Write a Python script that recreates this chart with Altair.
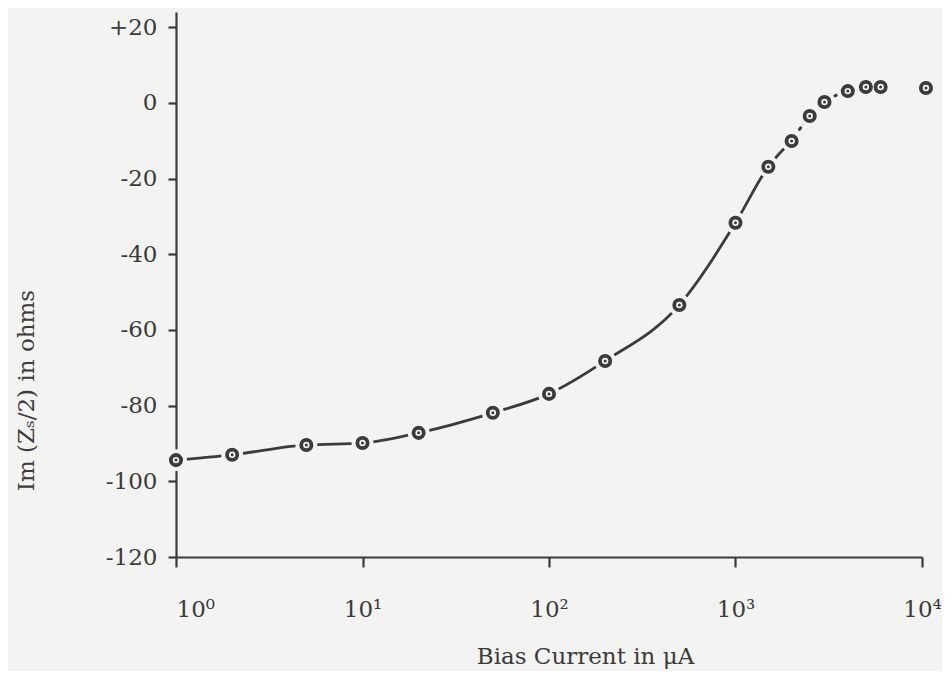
import altair as alt
import pandas as pd

# Bias current (microampere) and Im(Zs/2) in ohms
current = [1, 2, 5, 10, 20, 50, 100, 200, 500, 1000, 1500, 2000, 2500, 3000, 4000, 5000, 6000, 10500]
im_z = [-94.4, -93.0, -90.4, -89.9, -87.2, -81.9, -76.9, -68.2, -53.4, -31.7,
        -16.9, -10.1, -3.5, 0.2, 3.1, 4.2, 4.2, 3.9]

x_ticks = [1, 10, 100, 1000, 10000]
y_ticks = [-120, -100, -80, -60, -40, -20, 0, 20]

BG = "#f3f3f1"
INK = "#3b3b3b"
FONT = "DejaVu Serif"

df = pd.DataFrame({"current": current, "imz": im_z})
solid_part = df.iloc[0:12]
dotted_part = df.iloc[11:17]

x_scale = alt.Scale(type="log", domain=[1, 10000])
y_scale = alt.Scale(domain=[-120, 24], nice=False, zero=False)

sup_expr = ("'10' + (datum.value == 1 ? '⁰' : datum.value == 10 ? '¹' : "
            "datum.value == 100 ? '²' : datum.value == 1000 ? '³' : '⁴')")

x_axis = alt.Axis(
    values=x_ticks,
    labelExpr=sup_expr,
    labelFlush=False,
    labelAlign={"condition": {"test": "datum.value <= 1", "value": "left"}, "value": "center"},
    grid=False,
    domainColor=INK, domainWidth=2.2,
    tickColor=INK, tickWidth=2.2, tickSize=10,
    labelFont=FONT, labelFontSize=23, labelColor=INK, labelPadding=31,
    title="Bias Current in μA",
    titleFont=FONT, titleFontSize=23, titleFontWeight="normal", titleColor=INK,
    titleX=409, titleY=99, titleAlign="center", titleBaseline="middle",
)

y_axis = alt.Axis(
    values=y_ticks,
    labelExpr="datum.value > 0 ? '+' + datum.value : '' + datum.value",
    grid=False,
    domainColor=INK, domainWidth=2.2,
    tickColor=INK, tickWidth=2.2, tickSize=8,
    labelFont=FONT, labelFontSize=23, labelColor=INK, labelPadding=11,
    title="Im (Zₛ/2) in ohms",
    titleFont=FONT, titleFontSize=23, titleFontWeight="normal", titleColor=INK,
    titleX=-150, titleY=378, titleAngle=270, titleAlign="center", titleBaseline="middle",
)

base = alt.Chart(df).encode(
    x=alt.X("current:Q", scale=x_scale, axis=x_axis),
    y=alt.Y("imz:Q", scale=y_scale, axis=y_axis),
)

line_solid = alt.Chart(solid_part).mark_line(
    color=INK, strokeWidth=2.8, interpolate="monotone"
).encode(
    x=alt.X("current:Q", scale=x_scale, axis=x_axis),
    y=alt.Y("imz:Q", scale=y_scale, axis=y_axis),
)

line_dotted = alt.Chart(dotted_part).mark_line(
    color=INK, strokeWidth=3, interpolate="monotone", strokeDash=[2, 5], strokeCap="round"
).encode(
    x=alt.X("current:Q", scale=x_scale),
    y=alt.Y("imz:Q", scale=y_scale),
)

halo = base.mark_point(shape="circle", filled=True, color=BG, opacity=1, size=480)
rings = base.mark_point(shape="circle", filled=True, fill=BG, stroke=INK,
                        strokeWidth=3.8, opacity=1, size=105)
dots = base.mark_point(shape="circle", filled=True, color=INK, opacity=1, size=9)

chart = alt.layer(line_solid, line_dotted, halo, rings, dots).properties(
    width=746,
    height=545,
    autosize=alt.AutoSizeParams(type="none"),
    padding={"left": 168, "top": 4, "right": 20, "bottom": 114},
    background=BG,
).configure_view(stroke=None)

chart.save("out.html", embed_options={"renderer": "svg", "actions": False})
